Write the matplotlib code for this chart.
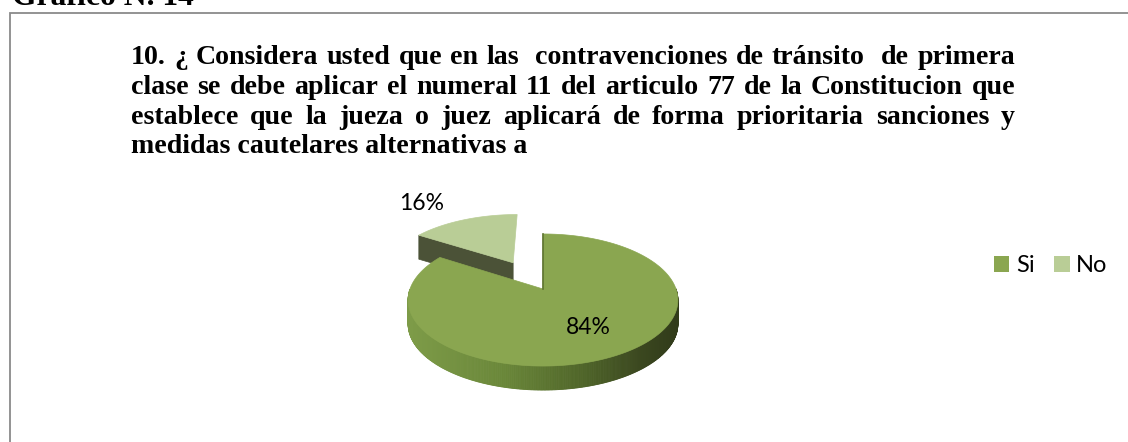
import numpy as np
import matplotlib
matplotlib.use('Agg')
import matplotlib.pyplot as plt
from matplotlib.patches import Polygon, Patch
from matplotlib.lines import Line2D
from matplotlib.colors import LinearSegmentedColormap

# ---------------- data ----------------
categories = ['Si', 'No']
values = [84, 16]
pct_labels = ['84%', '16%']
heading = 'Gráfico N. 14'
title_lines = [
    '10. ¿ Considera usted que en las  contravenciones de tránsito  de primera',
    'clase se debe aplicar el numeral 11 del articulo 77 de la Constitucion que',
    'establece que la jueza o juez aplicará de forma prioritaria sanciones y',
    'medidas cautelares alternativas a',
]

# ---------------- style ----------------
top_colors = ['#8AA650', '#B9CD96']
wall_colors = ['#3E4A22', '#4B5237']
side_cmap = LinearSegmentedColormap.from_list(
    'side', [(0, '#7D9B48'), (0.35, '#6A8739'), (0.65, '#4F6529'),
             (0.85, '#3C4920'), (1, '#313B1A')])
explode = [0.0, 0.5]

W, H = 1128, 442
fig = plt.figure(figsize=(W / 100, H / 100), dpi=100)
ax = fig.add_axes([0, 0, 1, 1])
ax.set_xlim(0, W)
ax.set_ylim(H, 0)
ax.axis('off')
renderer = fig.canvas.get_renderer()

# border
ax.add_line(Line2D([9.5, 9.5, W + 5], [H + 5, 13, 13], color='#8A8A8A', lw=1.3,
                   solid_joinstyle='miter'))

# ---------------- text ----------------
serif = dict(fontfamily='Liberation Serif', fontweight='bold', color='black')


def fit_size(txt, target, base=20, **kw):
    t = ax.text(0, 0, txt, fontsize=base, **kw)
    w = t.get_window_extent(renderer).width
    t.remove()
    return base * target / w


fs_title = fit_size(title_lines[3], 396, **serif)
fs_head = fit_size(heading, 182, **serif)
ax.text(12, 5, heading, fontsize=fs_head, va='baseline', ha='left', **serif)

L, R = 131, 1015
baselines = [64, 94, 123.5, 153]
for i, line in enumerate(title_lines):
    y = baselines[i]
    if i == len(title_lines) - 1:
        ax.text(L, y, line, fontsize=fs_title, va='baseline', ha='left', **serif)
        continue
    tokens = line.split(' ')
    objs, widths = [], []
    for tok in tokens:
        if tok:
            t = ax.text(0, y, tok, fontsize=fs_title, va='baseline', ha='left', **serif)
            objs.append(t)
            widths.append(t.get_window_extent(renderer).width)
        else:
            objs.append(None)
            widths.append(0.0)
    gap = (R - L - sum(widths)) / (len(tokens) - 1)
    x = L
    for t, w in zip(objs, widths):
        if t is not None:
            t.set_x(x)
        x += w + gap

# ---------------- 3D pie ----------------
CX, CY = 543, 289
SX, SY = 133, 64.2
K = 0.1667
DEPTH = 24


def proj(X, Y):
    d = 1 + K * Y
    return CX + SX * X / d, CY - SY * Y / d


vals = np.array(values, dtype=float)
fr = vals / vals.sum()
starts = 90 - 360 * np.concatenate([[0], np.cumsum(fr)[:-1]])
ends = starts - 360 * fr

slices = []
for i in range(len(vals)):
    mid = np.radians((starts[i] + ends[i]) / 2)
    off = (explode[i] * np.cos(mid), explode[i] * np.sin(mid))
    slices.append((off[1], i, off))
slices.sort(key=lambda s: -s[0])  # far ones first

for _, i, off in slices:
    n = max(int(abs(ends[i] - starts[i]) * 2), 4)
    th = np.radians(np.linspace(starts[i], ends[i], n))
    X = off[0] + np.cos(th)
    Y = off[1] + np.sin(th)
    px, py = proj(X, Y)
    cx0, cy0 = proj(off[0], off[1])
    # radial walls
    for edge, normal in ((starts[i], starts[i] + 90), (ends[i], ends[i] - 90)):
        if np.sin(np.radians(normal)) < -0.05:
            ex, ey = proj(off[0] + np.cos(np.radians(edge)), off[1] + np.sin(np.radians(edge)))
            ax.add_patch(Polygon([(cx0, cy0), (ex, ey), (ex, ey + DEPTH), (cx0, cy0 + DEPTH)],
                                 closed=True, fc=wall_colors[i], ec=wall_colors[i], lw=0.5))
    # outer curved side
    for j in range(n - 1):
        tm = (th[j] + th[j + 1]) / 2
        if np.sin(tm) < 0:
            tcol = ((px[j] + px[j + 1]) / 2 - (CX - SX)) / (2 * SX)
            c = side_cmap(np.clip(tcol, 0, 1))
            ax.add_patch(Polygon([(px[j], py[j]), (px[j + 1], py[j + 1]),
                                  (px[j + 1], py[j + 1] + DEPTH), (px[j], py[j] + DEPTH)],
                                 closed=True, fc=c, ec=c, lw=0.6))
    # top face
    pts = [(cx0, cy0)] + list(zip(px, py))
    ax.add_patch(Polygon(pts, closed=True, fc=top_colors[i], ec=top_colors[i], lw=0.5))
    if i == 0:
        # thin shaded edge along the cut at the 12 o'clock radius
        ex, ey = proj(off[0] + np.cos(np.radians(starts[i])), off[1] + np.sin(np.radians(starts[i])))
        ax.add_line(Line2D([cx0, ex], [cy0, ey], color='#5E7431', lw=1.2))

# data labels
label_pos = [(588, 328), (422, 203)]
for lab, (lx, ly) in zip(pct_labels, label_pos):
    ax.text(lx, ly, lab, fontsize=16.5, fontfamily='Lato', color='black',
            ha='center', va='center')

# legend
handles = [Patch(facecolor=c, edgecolor='none') for c in top_colors]
ax.legend(handles, categories, loc='center left', bbox_to_anchor=(994 / W, 1 - 265.5 / H),
          ncol=2, frameon=False, prop=dict(family='Lato', size=17),
          handlelength=0.64, handleheight=0.64, handletextpad=0.28, columnspacing=0.85,
          borderpad=0, borderaxespad=0)

fig.savefig('out.png', dpi=100)
